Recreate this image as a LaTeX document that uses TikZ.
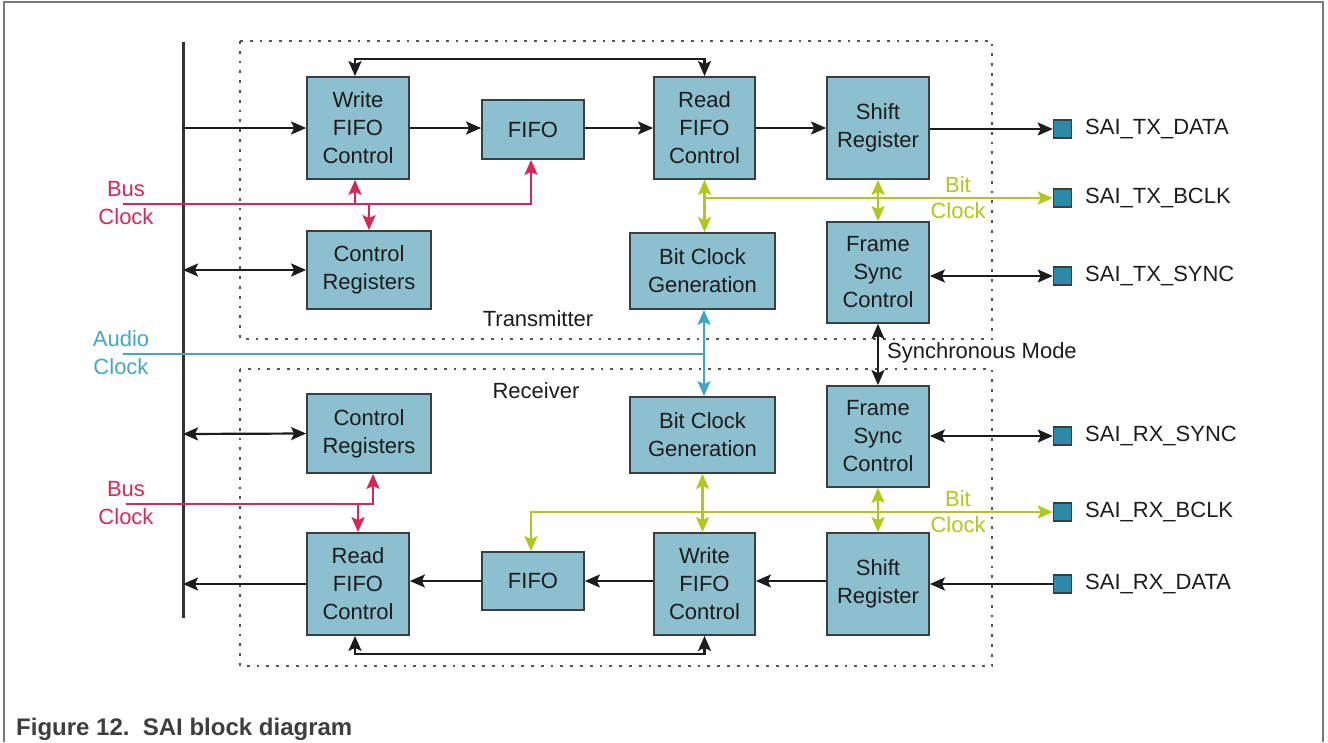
\documentclass[tikz,border=0pt]{standalone}
\usepackage{fontspec}
\setmainfont{Liberation Sans}
\usetikzlibrary{arrows.meta}
\definecolor{blkfill}{HTML}{8CC0CF}
\definecolor{blkline}{HTML}{3A3F42}
\definecolor{padfill}{HTML}{2C8AA8}
\definecolor{busred}{HTML}{DA2656}
\definecolor{audblue}{HTML}{43A6C6}
\definecolor{bitgreen}{HTML}{B2C61C}
\definecolor{txt}{HTML}{1C1C1C}
\definecolor{framegray}{HTML}{7A7A7A}
\definecolor{dotgray}{HTML}{555555}
\begin{document}
\begin{tikzpicture}[x=1pt,y=-1pt,
  tip/.tip={Stealth[length=15pt,width=13pt,inset=3pt]},
  blk/.style={draw=blkline, fill=blkfill, line width=1.8pt, align=center, inner sep=0pt,
    font=\fontsize{22}{28}\selectfont, text=txt},
  padsq/.style={draw=blkline, fill=padfill, line width=1.5pt, minimum size=18pt, inner sep=0pt},
  lbl/.style={font=\fontsize{22}{28}\selectfont, text=txt, inner sep=0pt},
  con/.style={line width=2.2pt, draw=txt},
  redl/.style={line width=2.5pt, draw=busred},
  bluel/.style={line width=2.5pt, draw=audblue},
  grnl/.style={line width=2.5pt, draw=bitgreen},
  section/.style={draw=dotgray, line width=2.8pt, dash pattern=on 2.8pt off 7pt}
]
\useasboundingbox (0,0) rectangle (1328,742);
% outer frame
\draw[framegray, line width=1.2pt] (4,742) -- (4,2) -- (1323,2) -- (1323,742);
% caption
\node[anchor=base west, font=\fontsize{24}{28}\selectfont\bfseries, text=txt!85, inner sep=0pt] (cap) at (16,735) {Figure 12.\ \ SAI block diagram};
% section boxes
\draw[section] (240,41) rectangle (992,339);
\draw[section] (240,369) rectangle (992,666);
% bus line
\draw[line width=3pt, draw=txt!90] (183,42) -- (183,618);
\coordinate (bTw) at (183,128);
\coordinate (bTc) at (183,270);
\coordinate (bRc) at (183,434);
\coordinate (bRr) at (183,584);
% ---------------- Transmitter blocks
\node[blk, minimum width=102pt, minimum height=102pt] (wfT) at (358,128) {Write\\FIFO\\Control};
\node[blk, minimum width=102pt, minimum height=59pt] (fifoT) at (533,129.5) {FIFO};
\node[blk, minimum width=101pt, minimum height=102pt] (rfT) at (704.5,128) {Read\\FIFO\\Control};
\node[blk, minimum width=102pt, minimum height=102pt] (shT) at (878,128) {Shift\\Register};
\node[blk, minimum width=124pt, minimum height=78pt] (crT) at (369,270) {Control\\Registers};
\node[blk, minimum width=145pt, minimum height=76pt] (bcT) at (702.5,271) {Bit Clock\\Generation};
\node[blk, minimum width=102pt, minimum height=101pt] (fsT) at (878,272.5) {Frame\\Sync\\Control};
% ---------------- Receiver blocks
\node[blk, minimum width=124pt, minimum height=79pt] (crR) at (369,433.5) {Control\\Registers};
\node[blk, minimum width=145pt, minimum height=76pt] (bcR) at (702.5,435) {Bit Clock\\Generation};
\node[blk, minimum width=102pt, minimum height=101pt] (fsR) at (878,436.5) {Frame\\Sync\\Control};
\node[blk, minimum width=102pt, minimum height=102pt] (rfR) at (358,584) {Read\\FIFO\\Control};
\node[blk, minimum width=102pt, minimum height=58pt] (fifoR) at (533,581) {FIFO};
\node[blk, minimum width=101pt, minimum height=102pt] (wfR) at (704.5,584) {Write\\FIFO\\Control};
\node[blk, minimum width=102pt, minimum height=102pt] (shR) at (878,584) {Shift\\Register};
% ---------------- pins
\node[padsq] (ptxd) at (1062.5,129) {};
\node[padsq] (ptxb) at (1062.5,198) {};
\node[padsq] (ptxs) at (1062.5,276) {};
\node[padsq] (prxs) at (1062.5,436) {};
\node[padsq] (prxb) at (1062.5,512) {};
\node[padsq] (prxd) at (1062.5,584) {};
\node[lbl, anchor=west] (ltxd) at (1085,129) {SAI\_TX\_DATA};
\node[lbl, anchor=west] (ltxb) at (1085,198) {SAI\_TX\_BCLK};
\node[lbl, anchor=west] (ltxs) at (1085,276) {SAI\_TX\_SYNC};
\node[lbl, anchor=west] (lrxs) at (1085,436) {SAI\_RX\_SYNC};
\node[lbl, anchor=west] (lrxb) at (1085,512) {SAI\_RX\_BCLK};
\node[lbl, anchor=west] (lrxd) at (1085,584) {SAI\_RX\_DATA};
% ---------------- labels
\node[lbl] (ltx) at (538,319) {Transmitter};
\node[lbl] (lrx) at (536,391) {Receiver};
\node[lbl, anchor=west] (lsync) at (887,353) {Synchronous Mode};
\node[lbl, align=center, text=busred] (lbcT) at (126,203) {Bus\\Clock};
\node[lbl, align=center, text=busred] (lbcR) at (126,503) {Bus\\Clock};
\node[lbl, align=center, text=audblue] (lac) at (121,353) {Audio\\Clock};
\node[lbl, align=center, text=bitgreen, font=\fontsize{22}{26}\selectfont] (lbkT) at (958,198) {Bit\\Clock};
\node[lbl, align=center, text=bitgreen, font=\fontsize{22}{26}\selectfont] (lbkR) at (958,512) {Bit\\Clock};
% ---------------- TX data path
\draw[con,-tip] (bTw) -- (wfT.west);
\draw[con,-tip] (wfT.east) -- (wfT.east -| fifoT.west);
\draw[con,-tip] (rfT.west -| fifoT.east) -- (rfT.west);
\draw[con,-tip] (rfT.east) -- (shT.west);
\draw[con,-tip] (shT.east |- ptxd.west) -- (ptxd.west);
\draw[con,tip-tip] ([xshift=-3pt]wfT.north) -- ++(0,-17) -| (rfT.north);
\draw[con,tip-tip] (bTc) -- (crT.west);
\draw[con,tip-tip] (fsT.east |- ptxs.west) -- (ptxs.west);
\draw[con,tip-tip] (fsT.south) -- (fsR.north);
% TX bus clock
\coordinate (bclkT) at (123,204);
\draw[redl,-tip] (bclkT) -| ([xshift=-2pt]fifoT.south);
\draw[redl,-tip] ([xshift=-3pt]wfT.south |- bclkT) -- ([xshift=-3pt]wfT.south);
\draw[redl,-tip] (crT.north |- bclkT) -- (crT.north);
% audio clock
\coordinate (aclk) at (123,354);
\draw[bluel,-tip] (aclk) -| ([xshift=1.5pt]bcT.south);
\draw[bluel,-tip] ([xshift=1.5pt]bcT.south |- aclk) -- ([xshift=1.5pt]bcR.north);
% TX bit clock
\draw[grnl,tip-tip] (rfT.south) -- (rfT.south |- bcT.north);
\draw[grnl,-tip] (rfT.south |- ptxb.west) -- (ptxb.west);
\draw[grnl,tip-tip] (shT.south) -- (fsT.north);
% ---------------- RX data path
\draw[con,tip-tip] (bRc) -- (crR.west);
\draw[con,-tip] (rfR.west) -- (bRr);
\draw[con,-tip] (fifoR.west) -- (fifoR.west -| rfR.east);
\draw[con,-tip] (wfR.west |- fifoR.east) -- (fifoR.east);
\draw[con,-tip] (shR.west |- fifoR.east) -- (wfR.east |- fifoR.east);
\draw[con,-tip] (prxd.west) -- (prxd.west -| shR.east);
\draw[con,tip-tip] ([xshift=-3pt]rfR.south) -- ++(0,18) -| (wfR.south);
\draw[con,tip-tip] (fsR.east |- prxs.west) -- (prxs.west);
% RX bus clock
\coordinate (bclkR) at (126,504);
\draw[redl,-tip] (bclkR) -| ([xshift=4pt]crR.south);
\draw[redl,-tip] (bclkR -| rfR.north) -- (rfR.north);
% RX bit clock
\draw[grnl,tip-tip] (bcR.south) -- (bcR.south |- wfR.north);
\draw[grnl,tip-tip] ([xshift=-2pt]fifoR.north) |- (prxb.west);
\draw[grnl,tip-tip] (fsR.south) -- (shR.north);
\end{tikzpicture}
\end{document}
